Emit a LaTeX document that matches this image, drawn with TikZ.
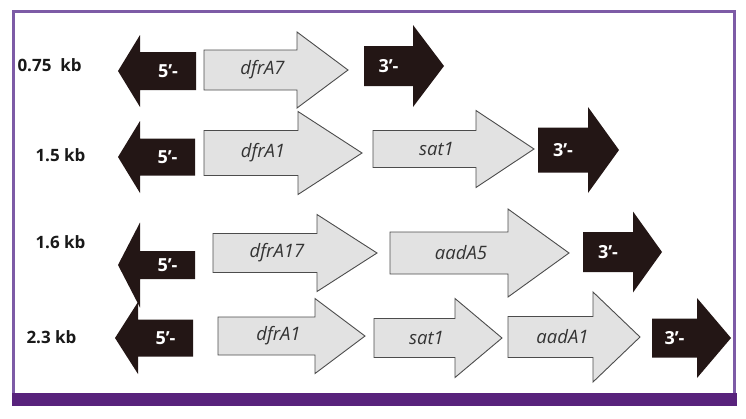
\documentclass[tikz,border=0pt]{standalone}
\usepackage{fontspec}
\setmainfont{Open Sans}
\definecolor{framelila}{HTML}{7D5BA6}
\definecolor{barlila}{HTML}{58227C}
\definecolor{genegrey}{HTML}{E2E2E2}
\definecolor{flankblack}{HTML}{231615}
% #1 name, #2 style, #3 tail x, #4 head base x, #5 tip x, #6 y, #7 half body, #8 half head, #9 text
\newcommand{\genearrow}[9]{%
	\draw[#2] (#3,{#6-#7}) -- (#4,{#6-#7}) -- (#4,{#6-#8}) -- (#5,#6)
		-- (#4,{#6+#8}) -- (#4,{#6+#7}) -- (#3,{#6+#7}) -- cycle;
	\node[#2 text] (#1) at ({(#3+#4)/2},#6) {#9};
}
\begin{document}
\begin{tikzpicture}[x=1pt,y=-1pt,
	gene/.style={fill=genegrey,draw=black!70,line width=0.9pt,line join=miter},
	gene text/.style={font=\fontsize{18.5}{20}\selectfont\itshape,text=black!80,xshift=12},
	flank/.style={fill=flankblack,draw=none},
	flank text/.style={font=\fontsize{18}{20}\selectfont\bfseries,text=white},
	size/.style={font=\fontsize{17}{19}\selectfont\bfseries,text=black!90,anchor=west}]
	\useasboundingbox (0,0) rectangle (746,418);
	% frame
	\draw[framelila,line width=3pt] (13,393) -- (13,11) -- (734.5,11) -- (734.5,393);
	\fill[barlila] (12,393) rectangle (737,406);
	% 0.75 kb
	\node[size] (r1) at (14,65) {0.75\ \ kb};
	\genearrow{r1-5}{flank}{196}{140}{118}{71}{19}{36}{5'-}
	\genearrow{r1-dfrA7}{gene}{204}{297}{348}{70}{20}{38}{dfrA7}
	\genearrow{r1-3}{flank}{364}{413}{444}{66}{20}{41}{3'-}
	% 1.5 kb
	\node[size] (r2) at (32,155) {1.5 kb};
	\genearrow{r2-5}{flank}{195}{140}{118}{157}{18.5}{36}{5'-}
	\genearrow{r2-dfrA1}{gene}{204}{298}{362}{153}{22.5}{41.5}{dfrA1}
	\genearrow{r2-sat1}{gene}{373}{476}{534}{149}{18.5}{38.5}{sat1}
	\genearrow{r2-3}{flank}{538}{588}{619}{150}{22.5}{43}{3'-}
	% 1.6 kb
	\node[size] (r3) at (32,242) {1.6 kb};
	\genearrow{r3-5}{flank}{195}{140}{118}{265}{14}{42.5}{5'-}
	\genearrow{r3-dfrA17}{gene}{213}{317}{377}{253}{19.5}{38.5}{dfrA17}
	\genearrow{r3-aadA5}{gene}{390}{508}{569}{253}{21}{44}{aadA5}
	\genearrow{r3-3}{flank}{583}{633}{662}{252}{20}{40.5}{3'-}
	% 2.3 kb
	\node[size] (r4) at (23,337) {2.3 kb};
	\genearrow{r4-5}{flank}{193}{138}{115}{338}{18.5}{36}{5'-}
	\genearrow{r4-dfrA1}{gene}{218}{315}{365}{336}{19}{37.5}{dfrA1}
	\genearrow{r4-sat1}{gene}{374}{455}{502}{338}{19.5}{39.5}{sat1}
	\genearrow{r4-aadA1}{gene}{508}{593}{640}{337}{20.5}{45}{aadA1}
	\genearrow{r4-3}{flank}{652}{697}{731}{338}{19.5}{40}{3'-}
\end{tikzpicture}
\end{document}
